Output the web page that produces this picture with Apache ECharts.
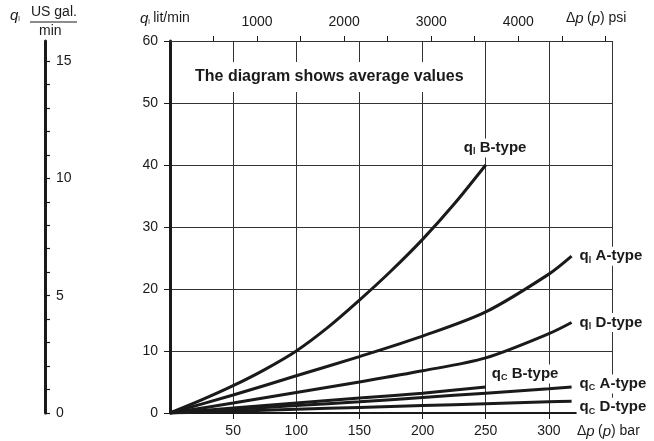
<!DOCTYPE html>
<html>
<head>
<meta charset="utf-8">
<script src="https://cdn.jsdelivr.net/npm/echarts@6/dist/echarts.min.js"></script>
<style>
  html, body { margin: 0; padding: 0; background: #fff; }
  #chart { width: 654px; height: 441px; }
</style>
</head>
<body>
<div id="chart"></div>
<script>
// Flow vs. pressure drop, pressure in bar, flow in lit/min
const pressureB = [0, 25, 50, 75, 100, 125, 150, 175, 200, 225, 250];
const qlB       = [0, 2.1, 4.4, 7.0, 10.0, 13.8, 18.2, 22.9, 28.0, 33.7, 40.0];

const pressureAD = [0, 50, 100, 150, 200, 250, 300, 318];
const qlA        = [0, 2.9, 6.0, 9.1, 12.4, 16.3, 22.4, 25.3];
const qlD        = [0, 1.6, 3.3, 5.0, 6.8, 8.9, 12.8, 14.6];

const pressureCB = [0, 50, 100, 150, 200, 250];
const qcB        = [0, 0.8, 1.6, 2.4, 3.2, 4.2];
const qcA        = [0, 0.6, 1.2, 1.8, 2.5, 3.2, 3.9, 4.2];
const qcD        = [0, 0.3, 0.6, 0.9, 1.2, 1.5, 1.8, 1.9];

// axis scales
const barTicks = [50, 100, 150, 200, 250, 300];
const psiTicks = [1000, 2000, 3000, 4000];
const galTicks = [0, 5, 10, 15];
const BAR_TO_PSI = 14.5038;
const GAL_TO_LIT = 3.78541;
const P_MAX = 350, Q_MAX = 60;

const FONT = 'Liberation Sans, Arial, Helvetica, sans-serif';
const INK = '#1a1a1a';

const labelRich = {
  q: { fontSize: 15, fontWeight: 'bold', fontFamily: FONT, color: INK },
  s: { fontSize: 9, fontWeight: 'bold', fontFamily: FONT, color: INK, verticalAlign: 'bottom', padding: [8, 1, 0, 0] },
  t: { fontSize: 15, fontWeight: 'bold', fontFamily: FONT, color: INK }
};

function pairs(p, q) { return p.map((x, i) => [x, q[i]]); }

function curve(name, p, q, sub, type, labelOpts) {
  return {
    name, type: 'line', smooth: 0.3, showSymbol: false,
    xAxisIndex: 0, yAxisIndex: 0,
    data: pairs(p, q),
    lineStyle: { color: INK, width: 3 },
    emphasis: { disabled: true },
    endLabel: Object.assign({
      show: true,
      formatter: '{q|q}{s|' + sub + '} {t|' + type + '}',
      rich: labelRich,
      backgroundColor: '#fff',
      padding: [1, 3, 1, 3],
      distance: 5
    }, labelOpts || {})
  };
}

const chart = echarts.init(document.getElementById('chart'), null, { renderer: 'canvas' });

chart.setOption({
  animation: false,
  backgroundColor: '#fff',
  textStyle: { fontFamily: FONT },
  title: {
    text: 'The diagram shows average values',
    left: 183, top: 62,
    backgroundColor: '#fff',
    padding: [7, 12, 7, 12],
    textStyle: { fontSize: 16, fontWeight: 'bold', color: INK, fontFamily: FONT }
  },
  grid: { left: 170, top: 41, width: 442, height: 372, containLabel: false },
  xAxis: [
    {
      type: 'value', position: 'bottom', min: 0, max: P_MAX, interval: 50,
      axisLine: { onZero: false, lineStyle: { color: INK, width: 2 } },
      axisTick: { show: true, length: 6, lineStyle: { color: INK, width: 1 } },
      axisLabel: {
        margin: 11, fontSize: 14, color: INK, fontFamily: FONT,
        showMinLabel: false, showMaxLabel: false,
        formatter: v => barTicks.includes(v) ? String(v) : ''
      },
      splitLine: { show: true, lineStyle: { color: '#333', width: 1 } }
    },
    {
      type: 'value', position: 'top', min: 0, max: P_MAX * BAR_TO_PSI, interval: 500,
      axisLine: { onZero: false, lineStyle: { color: '#333', width: 1 } },
      axisTick: { show: true, length: 5, lineStyle: { color: INK, width: 1 } },
      axisLabel: {
        margin: 12, fontSize: 14, color: INK, fontFamily: FONT,
        showMinLabel: false, showMaxLabel: false,
        formatter: v => psiTicks.includes(v) ? String(v) : ''
      },
      splitLine: { show: false }
    }
  ],
  yAxis: [
    {
      type: 'value', position: 'left', min: 0, max: Q_MAX, interval: 10,
      axisLine: { show: true, onZero: false, lineStyle: { color: INK, width: 3 } },
      axisTick: { show: true, length: 6, lineStyle: { color: INK, width: 1 } },
      axisLabel: { margin: 12, fontSize: 14, color: INK, fontFamily: FONT },
      splitLine: { show: true, lineStyle: { color: '#333', width: 1 } }
    },
    {
      type: 'value', position: 'left', offset: 125,
      min: 0, max: Q_MAX / GAL_TO_LIT, interval: 1,
      axisLine: { show: true, onZero: false, lineStyle: { color: INK, width: 3 } },
      axisTick: { show: true, inside: true, length: 5, lineStyle: { color: INK, width: 1.2 } },
      axisLabel: {
        inside: true, margin: 11, fontSize: 14, color: INK, fontFamily: FONT,
        showMaxLabel: false,
        formatter: v => galTicks.includes(v) ? String(v) : ''
      },
      splitLine: { show: false }
    }
  ],
  graphic: [
    // left gallon scale title: q_l  US gal. / min
    { type: 'text', left: 10, top: 8, style: {
        text: '{q|q}{s|l}', fill: INK,
        rich: {
          q: { fontSize: 15, fontStyle: 'italic', fontFamily: FONT, fill: INK },
          s: { fontSize: 7, fontFamily: FONT, fill: INK, verticalAlign: 'bottom', padding: [7, 0, 0, 0] }
        } } },
    { type: 'text', left: 31, top: 5, style: { text: 'US gal.', font: '14px ' + FONT, fill: INK } },
    { type: 'line', shape: { x1: 30, y1: 22, x2: 77, y2: 22 }, style: { stroke: INK, lineWidth: 1.2 } },
    { type: 'text', left: 39, top: 24, style: { text: 'min', font: '14px ' + FONT, fill: INK } },
    // main flow axis title
    { type: 'text', left: 140, top: 11, style: {
        text: '{q|q}{s|l} {t|lit/min}', fill: INK,
        rich: {
          q: { fontSize: 15, fontStyle: 'italic', fontFamily: FONT, fill: INK },
          s: { fontSize: 7, fontFamily: FONT, fill: INK, verticalAlign: 'bottom', padding: [7, 0, 0, 0] },
          t: { fontSize: 14, fontFamily: FONT, fill: INK }
        } } },
    // pressure axis titles
    { type: 'text', left: 566, top: 11, style: {
        text: '{n|Δ}{i|p} {n|(}{i|p}{n|) psi}', fill: INK,
        rich: {
          n: { fontSize: 14, fontFamily: FONT, fill: INK },
          i: { fontSize: 15, fontStyle: 'italic', fontFamily: FONT, fill: INK }
        } } },
    { type: 'text', left: 577, top: 424, style: {
        text: '{n|Δ}{i|p} {n|(}{i|p}{n|) bar}', fill: INK,
        rich: {
          n: { fontSize: 14, fontFamily: FONT, fill: INK },
          i: { fontSize: 15, fontStyle: 'italic', fontFamily: FONT, fill: INK }
        } } }
  ],
  series: [
    curve('ql B-type', pressureB, qlB, 'l', 'B-type', { offset: [-30, -17] }),
    curve('ql A-type', pressureAD, qlA, 'l', 'A-type'),
    curve('ql D-type', pressureAD, qlD, 'l', 'D-type'),
    curve('qc B-type', pressureCB, qcB, 'C', 'B-type', { offset: [-2, -13] }),
    curve('qc A-type', pressureAD, qcA, 'C', 'A-type', { offset: [0, -3] }),
    curve('qc D-type', pressureAD, qcD, 'C', 'D-type', { offset: [0, 6] })
  ]
});
</script>
</body>
</html>
